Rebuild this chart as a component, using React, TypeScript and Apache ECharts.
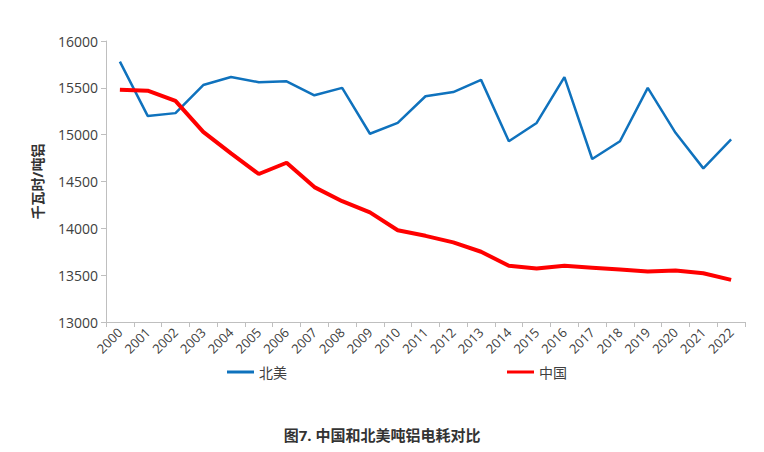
import React, { useEffect, useRef } from "react";
import * as echarts from "echarts";

const years = ["2000","2001","2002","2003","2004","2005","2006","2007","2008","2009","2010","2011","2012","2013","2014","2015","2016","2017","2018","2019","2020","2021","2022"];
const northAmerica = [15780,15200,15230,15530,15615,15560,15570,15420,15500,15010,15125,15410,15455,15585,14930,15125,15615,14740,14930,15500,15020,14640,14950];
const china = [15480,15470,15360,15030,14800,14580,14700,14440,14290,14170,13980,13920,13850,13750,13600,13570,13600,13580,13560,13540,13550,13520,13450];

const FONT = "'Open Sans', 'Noto Sans CJK SC', sans-serif";

export default function App() {
  const ref = useRef<HTMLDivElement>(null);
  useEffect(() => {
    const chart = echarts.init(ref.current!, null, { renderer: "svg" });
    chart.setOption({
      animation: false,
      textStyle: { fontFamily: FONT },
      grid: { left: 106, top: 41, right: 19, bottom: 130 },
      legend: {
        left: 222,
        top: 360,
        itemGap: 220,
        itemWidth: 27,
        itemHeight: 3,
        textStyle: { fontSize: 14, color: "#404040", fontFamily: FONT },
        data: [
          { name: "北美", icon: "rect" },
          { name: "中国", icon: "rect" },
        ],
      },
      title: {
        text: "图7. 中国和北美吨铝电耗对比",
        left: "center",
        top: 422,
        textStyle: { fontSize: 15, fontWeight: "bold", color: "#333", fontFamily: FONT },
      },
      xAxis: {
        type: "category",
        data: years,
        boundaryGap: true,
        axisLine: { lineStyle: { color: "#bfbfbf" } },
        axisTick: { show: true, alignWithLabel: false, lineStyle: { color: "#bfbfbf" } },
        axisLabel: { rotate: 45, fontSize: 13, color: "#404040", margin: 8, interval: 0 },
      },
      yAxis: {
        type: "value",
        min: 13000,
        max: 16000,
        interval: 500,
        name: "千瓦时/吨铝",
        nameLocation: "middle",
        nameGap: 62,
        nameRotate: 90,
        nameTextStyle: { fontSize: 14, fontWeight: "bold", color: "#333" },
        axisLine: { show: true, lineStyle: { color: "#bfbfbf" } },
        axisTick: { show: true, lineStyle: { color: "#bfbfbf" } },
        splitLine: { show: false },
        axisLabel: { fontSize: 14, color: "#404040", margin: 8, formatter: (v: number) => String(v) },
      },
      series: [
        {
          name: "北美",
          type: "line",
          data: northAmerica,
          symbol: "none",
          itemStyle: { color: "#0f72bd" },
          lineStyle: { color: "#0f72bd", width: 2.5 },
        },
        {
          name: "中国",
          type: "line",
          data: china,
          symbol: "none",
          itemStyle: { color: "#ff0000" },
          lineStyle: { color: "#ff0000", width: 4 },
        },
      ],
    });
    return () => chart.dispose();
  }, []);
  return <div ref={ref} style={{ width: 764, height: 452, margin: -8 }} />;
}
